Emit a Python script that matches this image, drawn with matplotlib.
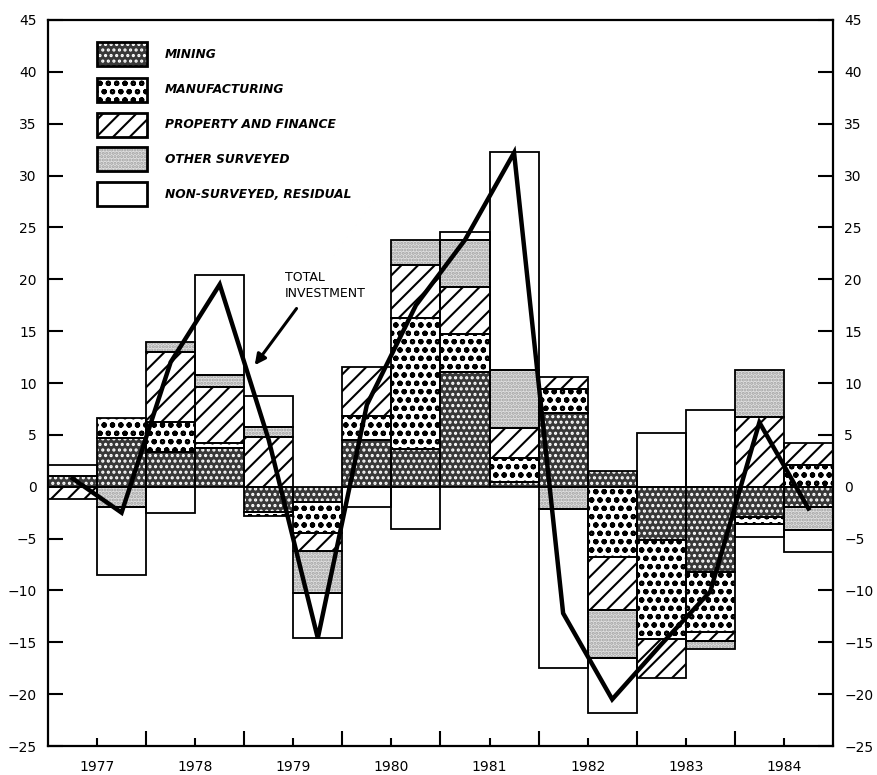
import matplotlib
matplotlib.use("Agg")
import matplotlib.pyplot as plt
import numpy as np
from matplotlib.patches import Rectangle

plt.rcParams['hatch.linewidth'] = 1.5

# ---------------- data (half-yearly, 1977 H1 .. 1984 H2) ----------------
years = ['1977', '1978', '1979', '1980', '1981', '1982', '1983', '1984']
categories = ['MINING', 'MANUFACTURING', 'PROPERTY AND FINANCE',
              'OTHER SURVEYED', 'NON-SURVEYED, RESIDUAL']
mining = [1.0, 4.7, 3.3, 3.7, -2.4, -1.5, 4.5, 3.6, 11.1, 0.5, 7.1, 1.5, -5.1, -8.2, -2.9, -2.0]
manufacturing = [0.0, 1.9, 2.9, 0.5, -0.4, -3.0, 2.3, 12.7, 3.6, 2.3, 2.3, -6.8, -9.6, -5.8, -0.7, 2.1]
property_finance = [-1.2, 0.0, 6.8, 5.4, 4.8, -1.7, 4.7, 5.1, 4.6, 2.9, 1.2, -5.1, -3.7, -0.9, 6.7, 2.1]
other_surveyed = [0.0, -2.0, 1.0, 1.2, 1.0, -4.0, 0.0, 2.4, 4.5, 5.6, -2.1, -4.6, 0.0, -0.7, 4.6, -2.2]
non_surveyed = [1.1, -6.5, -2.5, 9.6, 2.9, -4.4, -2.0, -4.1, 0.8, 21.0, -15.4, -5.3, 5.2, 7.4, -1.2, -2.1]
total = [0.8, -2.5, 12.0, 19.5, 4.5, -14.6, 7.9, 17.5, 23.8, 32.2, -12.2, -20.5, -15.2, -10.1, 6.2, -2.1]

series = [mining, manufacturing, property_finance, other_surveyed, non_surveyed]
# styles: (facecolor, hatch, hatchcolor)
styles = [('#383838', '...', 'white'),
          ('white', 'oo', 'black'),
          ('white', '//', 'black'),
          ('#e0e0e0', '.....', '#a0a0a0'),
          ('white', None, 'black')]

fig = plt.figure(figsize=(8.77, 7.75), dpi=100)
ax = fig.add_axes([0.0547, 0.0374, 0.8951, 0.9368])

n = len(total)
x = np.arange(n)
pos_base = np.zeros(n)
neg_base = np.zeros(n)
for vals, (fc, hatch, hc) in zip(series, styles):
    v = np.array(vals, dtype=float)
    bottoms = np.where(v >= 0, pos_base, neg_base)
    mask = v != 0
    ax.bar(x[mask], v[mask], bottom=bottoms[mask], width=1.0, color=fc,
           edgecolor=hc, hatch=hatch, linewidth=0, zorder=2)
    ax.bar(x[mask], v[mask], bottom=bottoms[mask], width=1.0, fill=False,
           edgecolor='black', linewidth=1.3, zorder=3)
    pos_base = pos_base + np.where(v > 0, v, 0)
    neg_base = neg_base + np.where(v < 0, v, 0)

ax.plot(x, total, color='black', lw=3.2, solid_joinstyle='miter', zorder=5)

ax.annotate('', xy=(3.68, 11.5), xytext=(4.6, 17.4),
            arrowprops=dict(arrowstyle='-|>', lw=2.2, color='black', mutation_scale=16),
            zorder=6)
ax.text(4.33, 19.4, 'TOTAL\nINVESTMENT', ha='left', va='center', fontsize=9,
        linespacing=1.35, zorder=6)

# legend built from patches in axes coordinates
ly = [0.953, 0.904, 0.856, 0.808, 0.760]
for (fc, hatch, hc), name, yy in zip(styles, categories, ly):
    ax.add_patch(Rectangle((0.0624, yy - 0.0165), 0.0637, 0.033, transform=ax.transAxes,
                           facecolor=fc, edgecolor=hc, hatch=hatch, linewidth=0, zorder=4))
    ax.add_patch(Rectangle((0.0624, yy - 0.0165), 0.0637, 0.033, transform=ax.transAxes,
                           fill=False, edgecolor='black', linewidth=2.0, zorder=4))
    ax.text(0.149, yy, name, transform=ax.transAxes, ha='left', va='center',
            fontsize=8.8, fontweight='bold', fontstyle='italic', zorder=4)

ax.set_xlim(-0.5, n - 0.5)
ax.set_ylim(-25, 45)

tick_font = ['Liberation Sans Narrow', 'DejaVu Sans']
ax.set_xticks(np.arange(0.5, n, 2))
ax.set_xticklabels(years, family=tick_font, fontsize=10)
ax.set_xticks(np.arange(1.5, n - 1, 2), minor=True)
ax.set_yticks(np.arange(-25, 46, 5))
ax.set_yticklabels([str(v).replace('-', '\u2212') for v in range(-25, 46, 5)],
                   family=tick_font, fontsize=10)
ax.tick_params(axis='x', which='major', direction='in', length=6, width=1.5, pad=10)
ax.tick_params(axis='x', which='minor', direction='in', length=11, width=1.5)
ax.tick_params(axis='y', which='major', direction='in', length=11, width=1.5,
               left=True, right=True, labelleft=True, labelright=True, pad=8)
for s in ax.spines.values():
    s.set_linewidth(1.6)

fig.savefig('out.png', dpi=100)
